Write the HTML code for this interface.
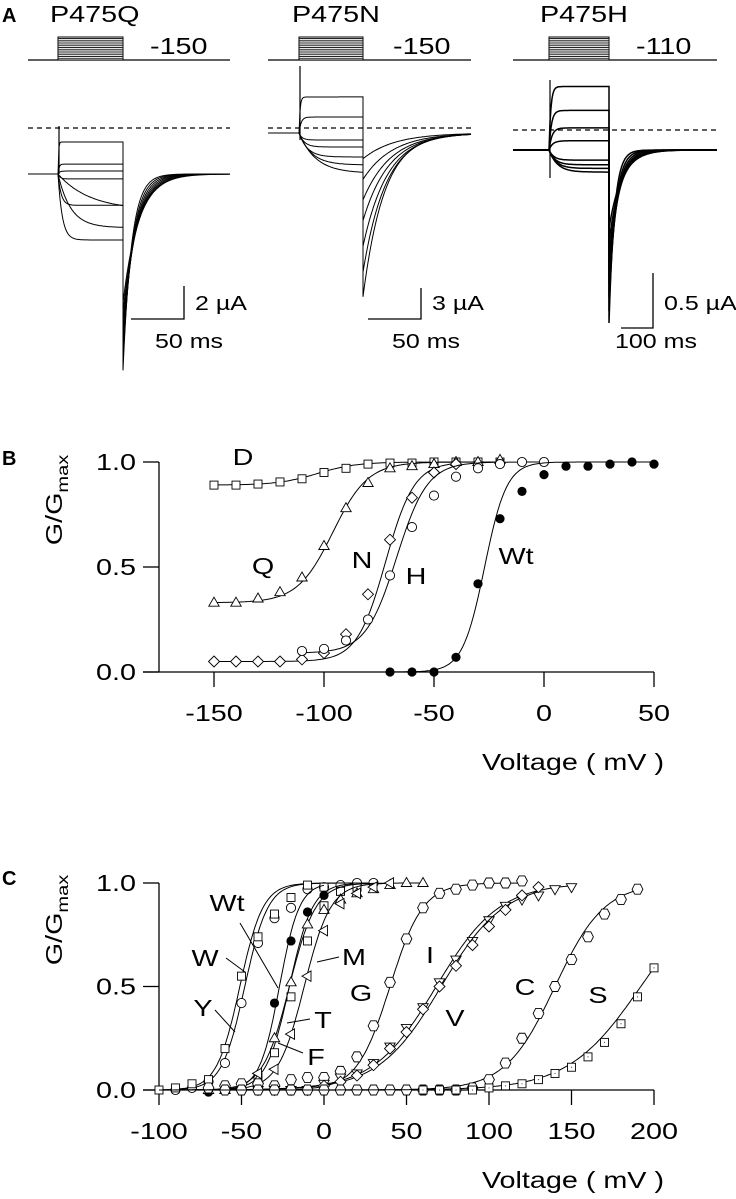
<!DOCTYPE html>
<html><head><meta charset="utf-8"><style>
html,body{margin:0;padding:0;background:#fff;}
svg{display:block;font-family:"Liberation Sans",Arial,sans-serif;}
</style></head><body>
<svg id="fig" width="736" height="1199" viewBox="0 0 736 1199">
<g id="panelA"></g>
<g id="panelB"></g>
<g id="panelC"></g>
</svg>
<script>
// ---------- Panel A data (currents in µA, time in ms) ----------
const qFinal = [1.94, 0.6, 0.18, -0.3, -1.9, -2.2, -3.25, -4.0];
const qTau = [0.5, 1, 1.5, 2, 3, 30, 12, 4];
const qTail = [-11.9, -11.4, -10.8, -10.2, -9.6, -9.0, -8.4, -7.8];
const nFinal = [3.5, 1.55, -0.68, -1.36, -2.33, -3.1, -3.9];
const nTau = [1, 2, 3, 5, 8, 12, 16];
const nTail = [-15.9, -13.5, -11.0, -8.5, -6.5, -4.5, -2.5];
const hFinal = [0.69, 0.43, 0.24, 0.1, -0.11, -0.16, -0.2, -0.24];
const hTau = [3, 4, 5, 6, 8, 10, 12, 14];
const hTail = [-1.88, -1.75, -1.6, -1.45, -1.3, -1.15, -1.0, -0.85];

// ---------- Panel B data ----------
const bDv = [-150,-140,-130,-120,-110,-100,-90,-80,-70,-60,-50,-40,-30,-20];
const bDg = [0.89,0.89,0.895,0.905,0.92,0.95,0.97,0.99,0.995,0.995,1.0,1.0,1.0,1.0];
const bQv = [-150,-140,-130,-120,-110,-100,-90,-80,-70,-60,-50,-40,-30,-20];
const bQg = [0.33,0.33,0.35,0.38,0.45,0.6,0.78,0.9,0.97,0.98,0.99,1.0,1.0,1.01];
const bNv = [-150,-140,-130,-120,-110,-100,-90,-80,-70,-60,-50,-40];
const bNg = [0.05,0.05,0.05,0.05,0.06,0.09,0.18,0.37,0.63,0.83,0.95,0.99];
const bHv = [-110,-100,-90,-80,-70,-60,-50,-40,-30,-20,-10,0];
const bHg = [0.1,0.11,0.15,0.25,0.46,0.69,0.84,0.93,0.97,0.99,1.0,1.0];
const bWv = [-70,-60,-50,-40,-30,-20,-10,0,10,20,30,40,50];
const bWg = [0,0,0,0.07,0.42,0.73,0.86,0.94,0.98,0.98,0.99,1.0,0.99];
const bTicksX = [-150,-100,-50,0,50];
const bTicksY = [0,0.5,1.0];

// ---------- Panel C data ----------
const cYv = [-90,-80,-70,-60,-50,-40,-30,-20,-10,0,10,20,30];
const cYg = [0,0.01,0.04,0.13,0.42,0.71,0.83,0.88,0.97,0.98,0.99,1.0,1.0];
const cWv = [-100,-90,-80,-70,-60,-50,-40,-30,-20,-10,0,10,20];
const cWg = [0,0.01,0.03,0.05,0.2,0.55,0.74,0.85,0.93,0.99,0.98,0.96,0.98];
const cWtv = [-70,-30,-20,-10,0];
const cWtg = [-0.01,0.42,0.72,0.86,0.94];
const cFv = [-50,-40,-30,-20,-10,0,10,20];
const cFg = [0.01,0.06,0.18,0.45,0.72,0.89,0.96,0.98];
const cTv = [-70,-60,-50,-40,-30,-20,-10,0,10,20,30,40,50,60];
const cTg = [0,0,0.02,0.05,0.25,0.52,0.8,0.87,0.92,0.95,0.97,0.99,1.0,1.0];
const cMv = [-40,-30,-20,-10,0,10,20,30,40];
const cMg = [0.08,0.1,0.27,0.55,0.77,0.9,0.95,0.98,1.0];
const cGv = [-70,-60,-50,-40,-30,-20,-10,0,10,20,30,40,50,60,70,80,90,100,110,120];
const cGg = [0.01,0.02,0.03,0.03,0.02,0.05,0.06,0.06,0.09,0.16,0.31,0.52,0.73,0.88,0.95,0.97,0.99,1.0,1.0,1.01];
const cIv = [-40,-30,-20,-10,0,10,20,30,40,50,60,70,80,90,100,110,120,130,140,150];
const cIg = [0,0,0,0,0.03,0.06,0.08,0.13,0.21,0.3,0.4,0.52,0.63,0.72,0.82,0.89,0.92,0.94,0.97,0.98];
const cVv = [0,10,20,30,40,50,60,70,80,90,100,110,120,130];
const cVg = [0.02,0.04,0.07,0.12,0.2,0.28,0.39,0.5,0.6,0.7,0.79,0.87,0.94,0.98];
const cCv = [-60,-50,-40,-30,-20,-10,0,10,20,30,40,50,60,70,80,90,100,110,120,130,140,150,160,170,180,190];
const cCg = [0,0,0,0,0,0,0,0,0,0,0,0,0,0,0,0.01,0.05,0.13,0.25,0.37,0.5,0.63,0.74,0.85,0.92,0.97];
const cSv = [60,70,80,90,100,110,120,130,140,150,160,170,180,190,200];
const cSg = [0,0,0,0,0.01,0.02,0.03,0.05,0.08,0.11,0.16,0.23,0.32,0.45,0.59];
const cTicksX = [-100,-50,0,50,100,150,200];
const cTicksY = [0,0.5,1.0];

const NS = "http://www.w3.org/2000/svg";
function el(parent, tag, attrs, text) {
  const e = document.createElementNS(NS, tag);
  for (const k in attrs) e.setAttribute(k, attrs[k]);
  if (text !== undefined) e.textContent = text;
  parent.appendChild(e);
  return e;
}
const FS = 23, SX = 1.25;
function txt(parent, x, y, size, str, anchor) {
  const t = el(parent, 'text', {x: 0, y: 0, 'font-size': size, 'text-anchor': anchor || 'start',
    transform: `translate(${x},${y}) scale(${SX},1)`}, str);
  return t;
}

// ================= Panel A =================
const A = document.getElementById('panelA');
const lbA = el(A, 'text', {x: 2, y: 22, 'font-size': 20, 'font-weight': 'bold'}, 'A');



function tracePanel(cfg, finals, taus, tails) {
  const g = el(A, 'g', {});
  
  
  const t = txt(g, cfg.x0 + cfg.titleDx, 22, FS, cfg.title);
  
  
  el(g, 'line', {x1: cfg.x0, y1: 60, x2: cfg.x1, y2: 60, stroke: '#000', 'stroke-width': 1.2});
  const box = el(g, 'g', {});
  
  
  el(box, 'rect', {x: cfg.s0, y: 37, width: cfg.s1 - cfg.s0, height: 23, fill: '#fff', stroke: '#000', 'stroke-width': 1});
  for (let i = 0; i < 12; i++) {
    const yy = 38.5 + i * 1.8;
    el(box, 'line', {x1: cfg.s0, y1: yy, x2: cfg.s1, y2: yy, stroke: '#222', 'stroke-width': 0.9});
  }
  const pl = txt(g, cfg.protoX, 54, FS, cfg.proto);
  
  
  const dl = el(g, 'line', {x1: cfg.x0, y1: cfg.dash, x2: cfg.x1, y2: cfg.dash, stroke: '#000', 'stroke-width': 1.2, 'stroke-dasharray': '5,4'});
  
  
  const pxPerMs = cfg.pxPerMs, base = cfg.base, sc = cfg.pxPerUA;
  for (let i = 0; i < finals.length; i++) {
    let d = `M${cfg.x0},${base} L${cfg.s0},${base}`;
    for (let x = cfg.s0; x <= cfg.s1; x += 1) {
      const tm = (x - cfg.s0) / pxPerMs;
      const I = finals[i] * (1 - Math.exp(-tm / taus[i]));
      d += ` L${x},${(base - I * sc).toFixed(1)}`;
    }
    d += ` L${cfg.s1},${(base - tails[i] * sc).toFixed(1)}`;
    for (let x = cfg.s1 + 1; x <= cfg.x1; x += 1) {
      const tm = (x - cfg.s1) / pxPerMs;
      const tau = cfg.tailTau * (1 + cfg.spread * i);
      const I = tails[i] * Math.exp(-tm / tau);
      d += ` L${x},${(base - I * sc).toFixed(1)}`;
    }
    const p = el(g, 'path', {d: d, fill: 'none', stroke: '#000', 'stroke-width': cfg.sw});
    
    
  }
  el(g, 'line', {x1: cfg.s0 + 1, y1: base, x2: cfg.s0 + 1, y2: cfg.spikeTop, stroke: '#000', 'stroke-width': 1.2});
  if (cfg.spikeBot) el(g, 'line', {x1: cfg.s0 + 1, y1: base, x2: cfg.s0 + 1, y2: cfg.spikeBot, stroke: '#000', 'stroke-width': 1.2});
  const sb = el(g, 'path', {d: `M${cfg.sbx0},${cfg.sby1} L${cfg.sbx1},${cfg.sby1} L${cfg.sbx1},${cfg.sby0}`, fill: 'none', stroke: '#000', 'stroke-width': 1.3});
  
  
  txt(g, cfg.sbx1 + 11, 310, 20, cfg.ua);
  txt(g, cfg.msX, 348, 20, cfg.ms);
}
tracePanel({name: 'trace-panel-p475q', title: 'P475Q', titleDx: 22, x0: 28, x1: 230, s0: 58, s1: 123, proto: '-150', protoX: 150,
  dash: 128, base: 174, pxPerMs: 1.06, pxPerUA: 16.5, tailTau: 8, spread: 0.12, sw: 1, spikeTop: 126,
  sbx0: 131, sbx1: 184, sby0: 286, sby1: 319, ua: '2 µA', ms: '50 ms', msX: 155}, qFinal, qTau, qTail);
tracePanel({name: 'trace-panel-p475n', title: 'P475N', titleDx: 24, x0: 268, x1: 471, s0: 299, s1: 363, proto: '-150', protoX: 393,
  dash: 128, base: 133, pxPerMs: 1.06, pxPerUA: 10.3, tailTau: 20, spread: 0.08, sw: 1, spikeTop: 66, spikeBot: 140,
  sbx0: 368, sbx1: 421, sby0: 288, sby1: 319, ua: '3 µA', ms: '50 ms', msX: 392}, nFinal, nTau, nTail);
tracePanel({name: 'trace-panel-p475h', title: 'P475H', titleDx: 27, x0: 513, x1: 717, s0: 549, s1: 609, proto: '-110', protoX: 636,
  dash: 130, base: 150, pxPerMs: 0.6, pxPerUA: 92, tailTau: 9, spread: 0.2, sw: 1.5, spikeTop: 80, spikeBot: 178,
  sbx0: 621, sbx1: 653, sby0: 273, sby1: 328, ua: '0.5 µA', ms: '100 ms', msX: 615}, hFinal, hTau, hTail);

// ================= Marker helper =================
function marker(g, type, x, y) {
  const r = 4.6;
  let m;
  const st = {fill: '#fff', stroke: '#000', 'stroke-width': 0.9};
  if (type === 'circle') m = el(g, 'circle', Object.assign({cx: x, cy: y, r: r}, st));
  else if (type === 'filled') m = el(g, 'circle', {cx: x, cy: y, r: r, fill: '#000'});
  else if (type === 'square' || type === 'dotsquare') {
    m = el(g, 'rect', Object.assign({x: x - 4, y: y - 4, width: 8, height: 8}, st));
    if (type === 'dotsquare') el(g, 'circle', {cx: x, cy: y, r: 0.6, fill: '#555'});
  } else {
    let pts;
    if (type === 'tri') pts = [[0,-5.5],[5.2,3.5],[-5.2,3.5]];
    else if (type === 'dtri') pts = [[0,5.5],[5.2,-3.5],[-5.2,-3.5]];
    else if (type === 'ltri') pts = [[-5.5,0],[3.5,-5.2],[3.5,5.2]];
    else if (type === 'diamond') pts = [[0,-5.5],[5.5,0],[0,5.5],[-5.5,0]];
    else if (type === 'hex') pts = [[-2.8,-5],[2.8,-5],[5.4,0],[2.8,5],[-2.8,5],[-5.4,0]];
    m = el(g, 'polygon', Object.assign({points: pts.map(p => (x + p[0]) + ',' + (y + p[1])).join(' ')}, st));
  }
  
  
}
function boltz(v, p) { return p.min + (1 - p.min) / (1 + Math.exp(-(v - p.vh) / p.k)); }

function chart(root, cfg) {
  const X = v => cfg.x0px + (v - cfg.x0v) * cfg.kx;
  const Y = gv => cfg.y0px - gv * cfg.ky;
  const ax = el(root, 'g', {});
  
  
  const lb = el(root, 'text', {x: 2, y: cfg.letterY, 'font-size': 20, 'font-weight': 'bold'}, cfg.letter);
  
  
  el(ax, 'line', {x1: 159, y1: Y(1), x2: 159, y2: Y(0), stroke: '#000', 'stroke-width': 1.3});
  el(ax, 'line', {x1: 143, y1: Y(0), x2: X(cfg.xmax), y2: Y(0), stroke: '#000', 'stroke-width': 1.3});
  cfg.ticksY.forEach(t => {
    el(ax, 'line', {x1: 143, y1: Y(t), x2: 159, y2: Y(t), stroke: '#000', 'stroke-width': 1.3});
    const tl = txt(ax, 136, Y(t) + 8, FS, t.toFixed(1), 'end');
    
    
  });
  cfg.ticksX.forEach(t => {
    el(ax, 'line', {x1: X(t), y1: Y(0), x2: X(t), y2: Y(0) + 15, stroke: '#000', 'stroke-width': 1.3});
    const tl = txt(ax, X(t), Y(0) + 49, FS, String(t), 'middle');
    
    
  });
  const xt = txt(ax, 573, Y(0) + 98, FS, 'Voltage ( mV )', 'middle');
  
  
  const yt = el(ax, 'text', {transform: `translate(62,${cfg.ytitleY}) rotate(-90) scale(${SX},1)`, 'font-size': FS, 'text-anchor': 'middle'});
  
  
  el(yt, 'tspan', {}, 'G/G');
  el(yt, 'tspan', {'font-size': 16, dy: 6}, 'max');
  cfg.series.forEach(s => {
    const g = el(root, 'g', {});
    
    
    let d = '';
    const a = s.from !== undefined ? s.from : s.v[0], b = s.v[s.v.length - 1];
    for (let v = a; v <= b + 0.01; v += 1) d += (d ? ' L' : 'M') + X(v).toFixed(1) + ',' + Y(boltz(v, s.fit)).toFixed(1);
    const c = el(g, 'path', {d: d, fill: 'none', stroke: '#000', 'stroke-width': 1});
    
    
    s.v.forEach((v, i) => marker(g, s.marker, X(v), Y(s.g[i])));
  });
  cfg.labels.forEach(l => {
    const t = txt(root, l[1], l[2] + 8, FS, l[0], 'middle');
    
    
    if (l[3]) el(root, 'line', {x1: l[3], y1: l[4], x2: l[5], y2: l[6], stroke: '#000', 'stroke-width': 1});
  });
}

chart(document.getElementById('panelB'), {
  letter: 'B', letterY: 465, x0px: 324, x0v: -100, kx: 2.2, y0px: 672, ky: 210, xmax: 50, ytitleY: 500,
  ticksX: bTicksX, ticksY: bTicksY,
  series: [
    {name: 'D', v: bDv, g: bDg, marker: 'square', fit: {min: 0.89, vh: -103, k: 9}},
    {name: 'Q', v: bQv, g: bQg, marker: 'tri', fit: {min: 0.33, vh: -96, k: 8}},
    {name: 'N', v: bNv, g: bNg, marker: 'diamond', fit: {min: 0.05, vh: -72, k: 6.5}},
    {name: 'H', v: bHv, g: bHg, marker: 'circle', fit: {min: 0.09, vh: -67, k: 7}},
    {name: 'Wt', v: bWv, g: bWg, marker: 'filled', fit: {min: 0, vh: -27, k: 5}}
  ],
  labels: [['D', 243, 457], ['Q', 263, 566], ['N', 362, 560], ['H', 416, 576], ['Wt', 516, 556]]
});

chart(document.getElementById('panelC'), {
  letter: 'C', letterY: 885, x0px: 159, x0v: -100, kx: 1.65, y0px: 1090, ky: 207, xmax: 200, ytitleY: 920,
  ticksX: cTicksX, ticksY: cTicksY,
  series: [
    {name: 'Y', v: cYv, g: cYg, marker: 'circle', from: -100, fit: {min: 0, vh: -48, k: 7}},
    {name: 'W', v: cWv, g: cWg, marker: 'square', from: -100, fit: {min: 0, vh: -51, k: 7}},
    {name: 'Wt', v: cWtv, g: cWtg, marker: 'filled', from: -100, fit: {min: 0, vh: -27, k: 6}},
    {name: 'F', v: cFv, g: cFg, marker: 'square', from: -100, fit: {min: 0, vh: -21, k: 7}},
    {name: 'T', v: cTv, g: cTg, marker: 'tri', from: -100, fit: {min: 0, vh: -21, k: 8}},
    {name: 'M', v: cMv, g: cMg, marker: 'ltri', from: -100, fit: {min: 0, vh: -12, k: 8}},
    {name: 'G', v: cGv, g: cGg, marker: 'hex', from: -100, fit: {min: 0, vh: 40, k: 10}},
    {name: 'I', v: cIv, g: cIg, marker: 'dtri', from: -100, fit: {min: 0, vh: 68, k: 19}},
    {name: 'V', v: cVv, g: cVg, marker: 'diamond', from: -100, fit: {min: 0, vh: 71, k: 19}},
    {name: 'C', v: cCv, g: cCg, marker: 'hex', from: -100, fit: {min: 0, vh: 140, k: 15}},
    {name: 'S', v: cSv, g: cSg, marker: 'dotsquare', from: -100, fit: {min: 0, vh: 192, k: 22}}
  ],
  labels: [
    ['Wt', 227, 903, 240, 923, 278, 988],
    ['W', 205, 958, 226, 958, 245, 972],
    ['Y', 203, 1008, 215, 1010, 235, 1032],
    ['M', 354, 957, 339, 957, 317, 962],
    ['T', 323, 1020, 310, 1019, 287, 1023],
    ['F', 316, 1057, 303, 1053, 278, 1043],
    ['G', 361, 993], ['I', 430, 955], ['V', 455, 1018], ['C', 525, 987], ['S', 598, 995]
  ]
});
</script>
</body></html>
